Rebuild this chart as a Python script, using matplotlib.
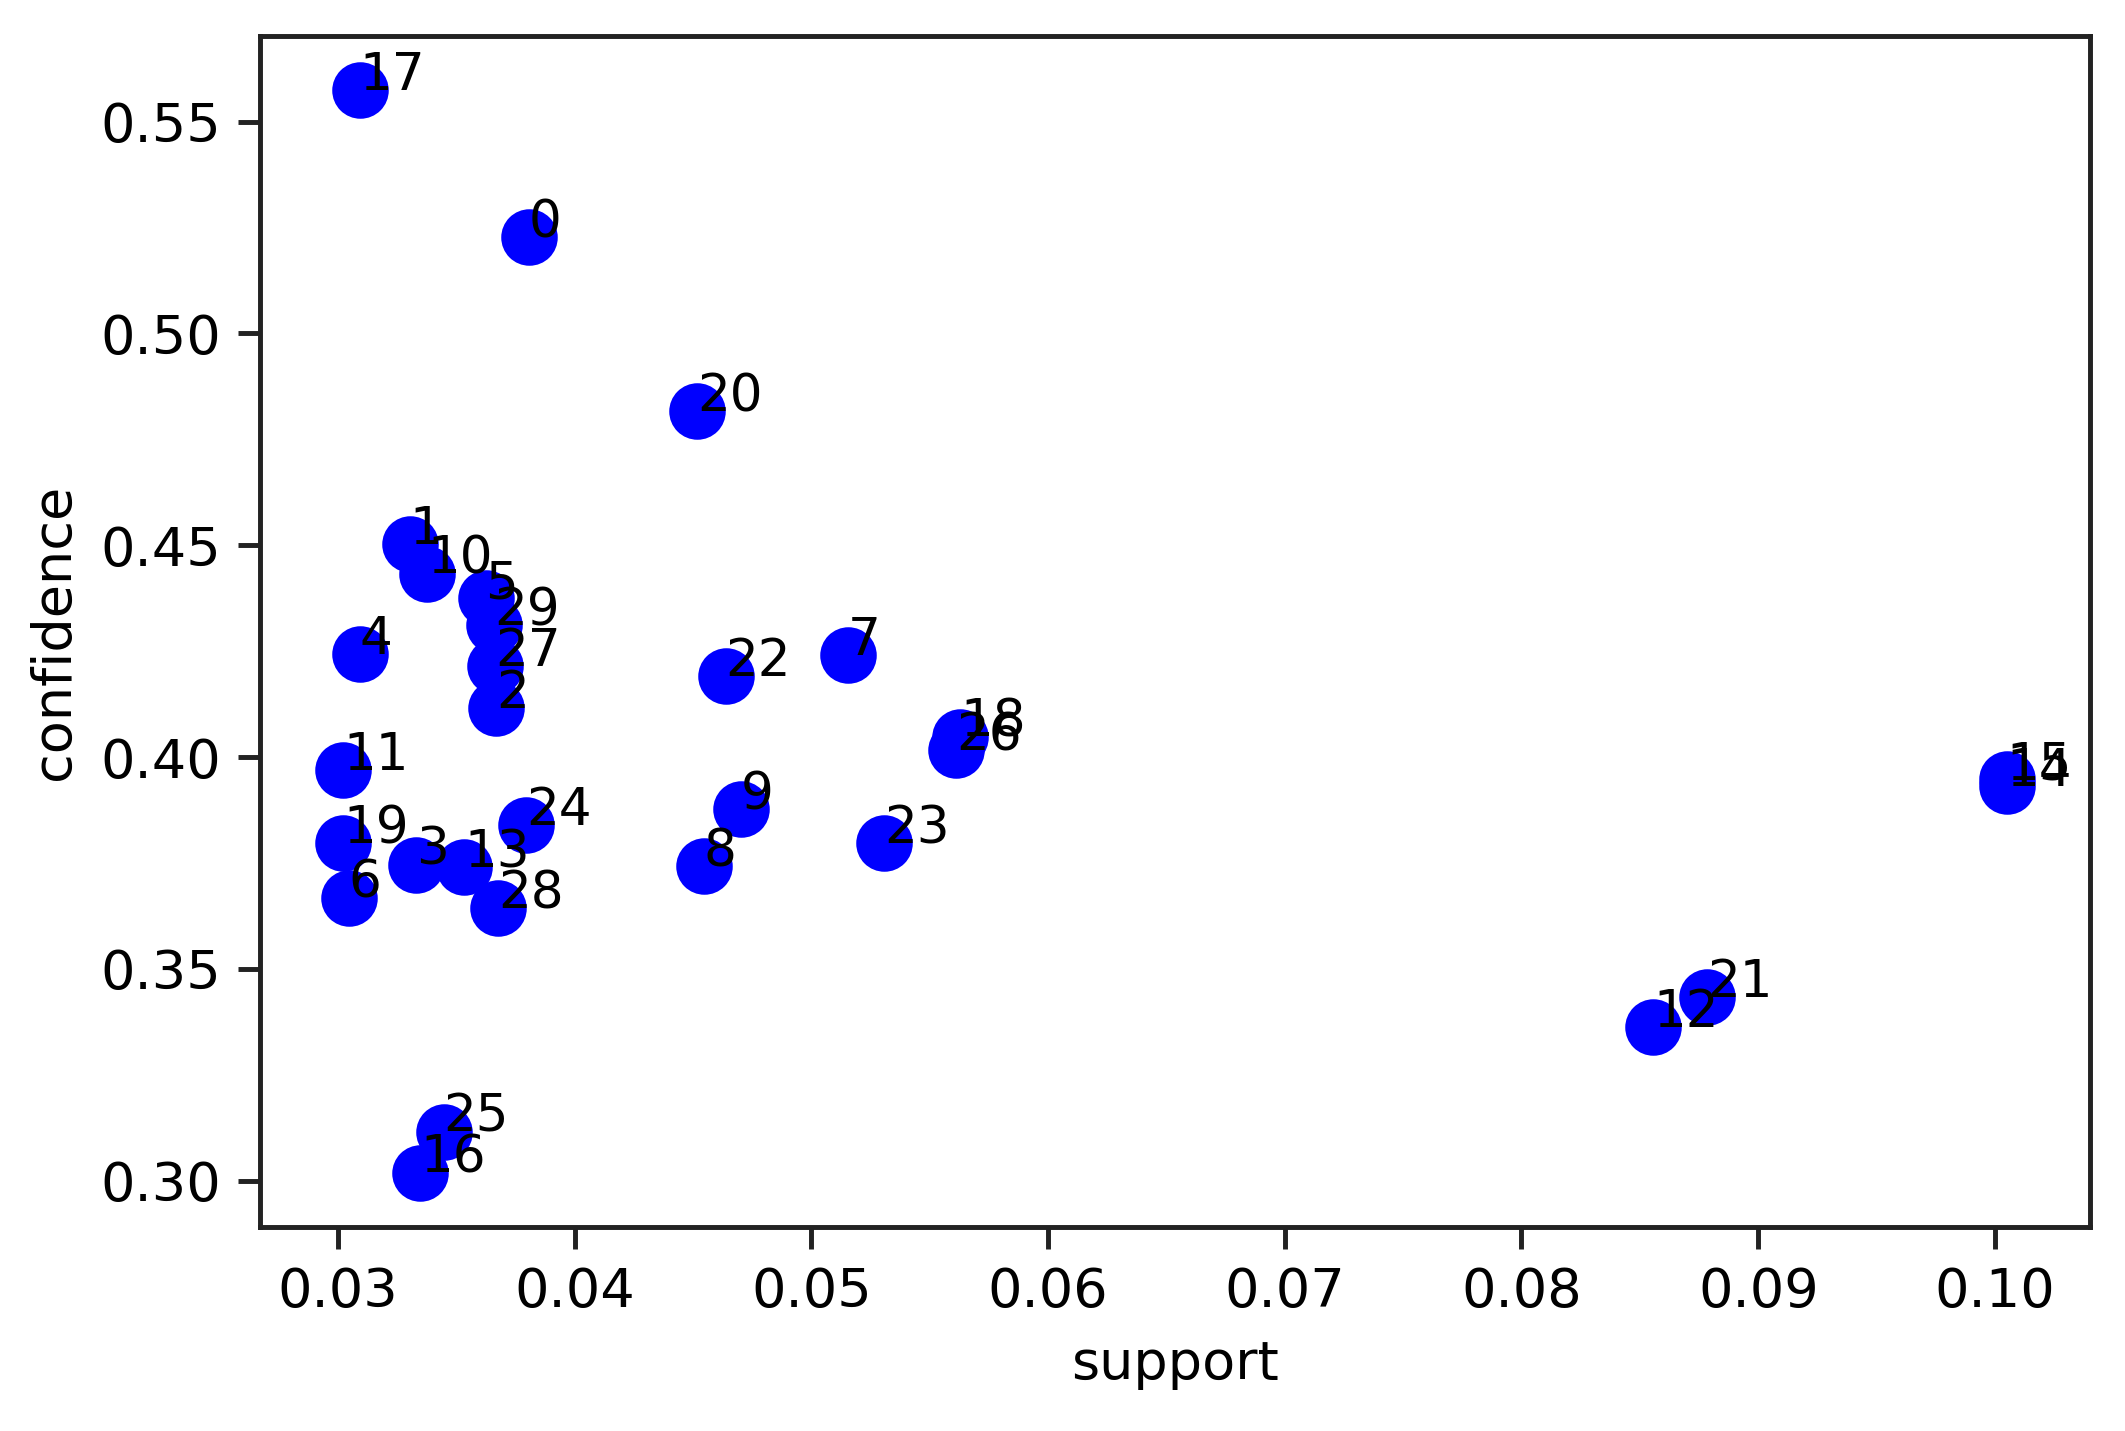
import matplotlib
matplotlib.use("Agg")
import matplotlib.pyplot as plt

# association rules: support / confidence per rule index
support = [0.03808, 0.03304, 0.03670, 0.03332, 0.03092, 0.03624, 0.03046, 0.05153,
           0.04546, 0.04701, 0.03378, 0.03023, 0.08556, 0.03533, 0.10050, 0.10050,
           0.03349, 0.03092, 0.05629, 0.03023, 0.04518, 0.08785, 0.04638, 0.05308,
           0.03796, 0.03447, 0.05612, 0.03664, 0.03676, 0.03659]
confidence = [0.5227, 0.4504, 0.4115, 0.3746, 0.4244, 0.4375, 0.3668, 0.4240,
              0.3742, 0.3877, 0.4433, 0.3970, 0.3363, 0.3740, 0.3932, 0.3948,
              0.3019, 0.5574, 0.4048, 0.3797, 0.4816, 0.3434, 0.4192, 0.3797,
              0.3839, 0.3116, 0.4016, 0.4215, 0.3643, 0.4311]
labels = [str(i) for i in range(len(support))]

dpi = 354.17
fig = plt.figure(figsize=(2125 / dpi, 1431 / dpi), dpi=dpi)
ax = fig.add_axes([0.1224, 0.1426, 0.8611, 0.8322])

ax.scatter(support, confidence, c='blue', s=110)
for i, txt in enumerate(labels):
    ax.annotate(txt, (support[i], confidence[i]), fontsize=10.5)

ax.set_xlabel("support", fontsize=11)
ax.set_ylabel("confidence", fontsize=11)
ax.tick_params(labelsize=11, length=4.5, width=1.0, color='#222222')
for sp in ax.spines.values():
    sp.set_linewidth(1.0)
    sp.set_color('#222222')

fig.savefig("out.png", dpi=dpi)
